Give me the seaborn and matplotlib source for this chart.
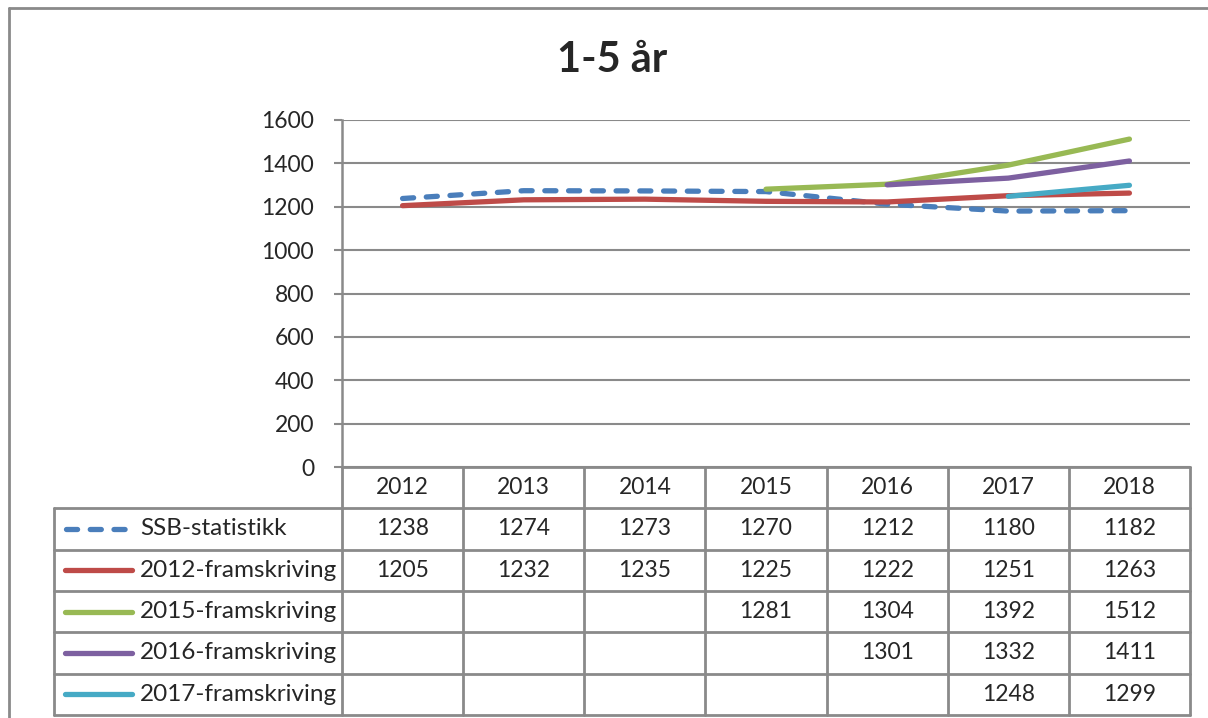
import numpy as np
import pandas as pd
import matplotlib
matplotlib.use("Agg")
import matplotlib.pyplot as plt
from matplotlib.lines import Line2D
import seaborn as sns

years = ["2012", "2013", "2014", "2015", "2016", "2017", "2018"]
series_names = ["SSB-statistikk", "2012-framskriving", "2015-framskriving",
                "2016-framskriving", "2017-framskriving"]
ssb = [1238, 1274, 1273, 1270, 1212, 1180, 1182]
fr2012 = [1205, 1232, 1235, 1225, 1222, 1251, 1263]
fr2015 = [np.nan, np.nan, np.nan, 1281, 1304, 1392, 1512]
fr2016 = [np.nan, np.nan, np.nan, np.nan, 1301, 1332, 1411]
fr2017 = [np.nan, np.nan, np.nan, np.nan, np.nan, 1248, 1299]
colors = ["#4A7EBB", "#BE4B48", "#98B954", "#7D60A0", "#46AAC5"]
title = "1-5 år"

all_vals = [ssb, fr2012, fr2015, fr2016, fr2017]

sns.set_style("white")
plt.rcParams['font.family'] = ['Lato', 'DejaVu Sans']

W, H = 1208, 718
fig = plt.figure(figsize=(W / 100, H / 100), dpi=100)
fig.patch.set_facecolor("white")

def fx(px):
    return px / W

def fy(py):
    return 1 - py / H

L, R, T, B = 342, 1190, 120, 467
ax = fig.add_axes([fx(L), fy(B), fx(R) - fx(L), fy(T) - fy(B)])

DASH = (0, (2.1, 2.4))
LW = 3.8

x = np.arange(len(years))
for name, vals, col in zip(series_names, all_vals, colors):
    df = pd.DataFrame({"x": x, "y": vals}).dropna()
    if name == "SSB-statistikk":
        sns.lineplot(data=df, x="x", y="y", ax=ax, color=col, linewidth=LW,
                     linestyle=DASH, dash_capstyle="round",
                     solid_capstyle="round", zorder=3)
    else:
        sns.lineplot(data=df, x="x", y="y", ax=ax, color=col, linewidth=LW,
                     solid_capstyle="round", zorder=4)

gray = "#8A8A8A"
ax.set_xlim(-0.5, len(years) - 0.5)
ax.set_ylim(0, 1600)
ax.set_yticks(np.arange(0, 1601, 200))
ax.set_xticks([])
ax.set_xlabel("")
ax.set_ylabel("")
ax.yaxis.grid(True, color=gray, linewidth=1.5)
ax.set_axisbelow(True)
for s in ["top", "right", "bottom"]:
    ax.spines[s].set_visible(False)
ax.spines["left"].set_color(gray)
ax.spines["left"].set_linewidth(1.8)
ax.tick_params(axis="y", which="major", direction="out", length=6, width=1.5,
               color=gray, labelsize=16.5, pad=14, left=True)

fig.text(fx(612), fy(60), title, ha="center", va="center", fontsize=30,
         fontweight="bold")

# outer frame
lw = 2.0
def hline(y, x0, x1, w=lw):
    fig.add_artist(Line2D([fx(x0), fx(x1)], [fy(y), fy(y)], color=gray, linewidth=w))

def vline(xp, y0, y1, w=lw):
    fig.add_artist(Line2D([fx(xp), fx(xp)], [fy(y0), fy(y1)], color=gray, linewidth=w))

hline(7.5, 9, W + 5)
vline(9, 7.5, H + 5)

# data table
ncol = len(years)
colw = (R - L) / ncol
rowh = 41.3
rows_y = [B + k * rowh for k in range(len(series_names) + 2)]
bottom = rows_y[-1]
LBL = 54

hline(B, L, R)
for k in range(1, len(rows_y)):
    hline(rows_y[k], LBL, R)
vline(L, B, bottom)
vline(LBL, rows_y[1], bottom)
for i in range(1, ncol + 1):
    vline(L + i * colw, B, bottom)

fs = 16.5
for i, yr in enumerate(years):
    fig.text(fx(L + (i + 0.5) * colw), fy(B + rowh / 2), yr, ha="center",
             va="center", fontsize=fs)

for r, (name, vals, col) in enumerate(zip(series_names, all_vals, colors)):
    yc = rows_y[r + 1] + rowh / 2
    for i, v in enumerate(vals):
        if not np.isnan(v):
            fig.text(fx(L + (i + 0.5) * colw), fy(yc), f"{int(v)}", ha="center",
                     va="center", fontsize=fs)
    if name == "SSB-statistikk":
        fig.add_artist(Line2D([fx(66), fx(126)], [fy(yc), fy(yc)], color=col,
                              linewidth=LW, linestyle=DASH,
                              dash_capstyle="round"))
    else:
        fig.add_artist(Line2D([fx(65), fx(132)], [fy(yc), fy(yc)], color=col,
                              linewidth=LW, solid_capstyle="round"))
    fig.text(fx(140), fy(yc), name, ha="left", va="center", fontsize=17.5)

fig.savefig("out.png", dpi=100, facecolor="white")
